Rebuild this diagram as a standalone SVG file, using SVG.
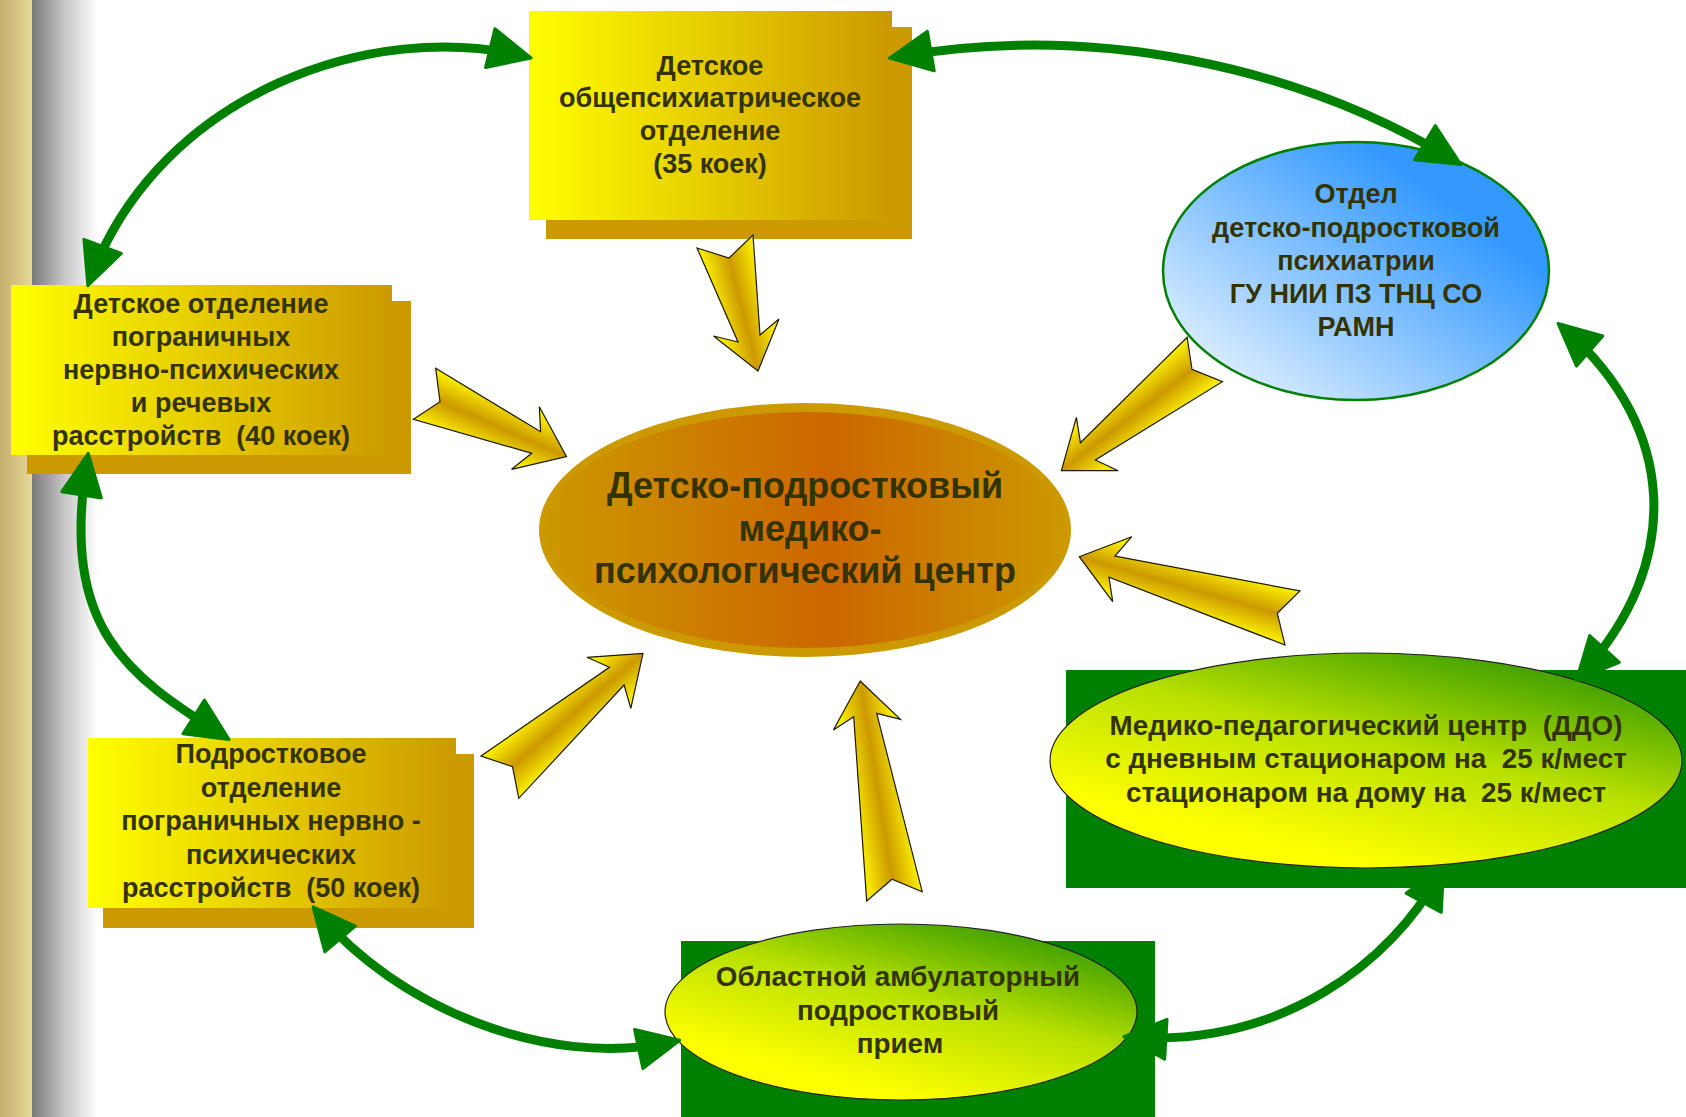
<svg xmlns="http://www.w3.org/2000/svg" width="1686" height="1117" viewBox="0 0 1686 1117">
<style>
.t{font-family:"Liberation Sans",Arial,sans-serif;font-weight:bold;fill:#333300;text-anchor:middle;white-space:pre}
.s27{font-size:27px}
.s28{font-size:27.8px}
.s36{font-size:36px}
.box{fill:url(#boxG)}
.shadow{fill:#cc9900}
.gold{stroke:#1a1a00;stroke-width:1.2;stroke-linejoin:miter}
.conn{fill:none;stroke:#008000;stroke-width:9;marker-start:url(#ah);marker-end:url(#ah)}
.grect{fill:#008000}
.gell{fill:url(#greenG);stroke:#222;stroke-width:1.2}
</style>
<defs>
<linearGradient id="tanG" x1="0" y1="0" x2="1" y2="0"><stop offset="0" stop-color="#c4ae6e"/><stop offset="1" stop-color="#e6d898"/></linearGradient>
<linearGradient id="grayG" x1="0" y1="0" x2="1" y2="0"><stop offset="0" stop-color="#7a7a7a"/><stop offset="0.5" stop-color="#c8c8c8"/><stop offset="1" stop-color="#ffffff"/></linearGradient>
<linearGradient id="boxG" x1="0" y1="0" x2="1" y2="0"><stop offset="0" stop-color="#ffff00"/><stop offset="1" stop-color="#cc9900"/></linearGradient>
<linearGradient id="blueG" x1="0.1" y1="0.95" x2="0.8" y2="0.3"><stop offset="0" stop-color="#e8f4ff"/><stop offset="1" stop-color="#3399ff"/></linearGradient>
<linearGradient id="centerG" x1="0" y1="0" x2="1" y2="0"><stop offset="0" stop-color="#cc9900"/><stop offset="0.55" stop-color="#cc6600"/><stop offset="1" stop-color="#cc9900"/></linearGradient>
<linearGradient id="greenG" x1="0.3" y1="0.85" x2="0.85" y2="0.05"><stop offset="0" stop-color="#ffff00"/><stop offset="0.5" stop-color="#b8e000"/><stop offset="1" stop-color="#339900"/></linearGradient>
<linearGradient id="goldStops"><stop offset="0" stop-color="#f8ea00"/><stop offset="0.5" stop-color="#cc9900"/><stop offset="1" stop-color="#f8ea00"/></linearGradient>
<linearGradient id="gA" href="#goldStops" gradientUnits="userSpaceOnUse" x1="733.8" y1="377.2" x2="782.2" y2="364.8"/>
<linearGradient id="gB" href="#goldStops" gradientUnits="userSpaceOnUse" x1="576.5" y1="433.8" x2="556.5" y2="479.6"/>
<linearGradient id="gC" href="#goldStops" gradientUnits="userSpaceOnUse" x1="626.6" y1="634.4" x2="659.4" y2="672.2"/>
<linearGradient id="gD" href="#goldStops" gradientUnits="userSpaceOnUse" x1="835.5" y1="685" x2="884.9" y2="677"/>
<linearGradient id="gE" href="#goldStops" gradientUnits="userSpaceOnUse" x1="1046.1" y1="451" x2="1076.7" y2="490.5"/>
<linearGradient id="gF" href="#goldStops" gradientUnits="userSpaceOnUse" x1="1086.2" y1="532.7" x2="1072.4" y2="580.8"/>
<marker id="ah" markerUnits="userSpaceOnUse" viewBox="0 0 46 44" markerWidth="46" markerHeight="44" refX="35" refY="22" orient="auto-start-reverse">
<path d="M2,2 L44,22 L2,42 z" fill="#008000" stroke="#008000" stroke-width="3" stroke-linejoin="round"/>
</marker>
</defs>

<rect width="1686" height="1117" fill="#ffffff"/>
<g id="stripe">
<rect x="0" y="0" width="32" height="1117" fill="url(#tanG)"/>
<rect x="32" y="0" width="66" height="1117" fill="url(#grayG)"/>
</g>

<g id="node-top">
<rect class="shadow" x="546" y="27" width="366" height="212"/>
<rect class="box" x="529" y="11" width="363" height="209"/>
<text class="t s27" x="710" y="75">Детское</text>
<text class="t s27" x="710" y="107">общепсихиатрическое</text>
<text class="t s27" x="710" y="140">отделение</text>
<text class="t s27" x="710" y="173">(35 коек)</text>
</g>

<g id="node-left1">
<rect class="shadow" x="27" y="301" width="384" height="173"/>
<rect class="box" x="11" y="285" width="381" height="170"/>
<text class="t s27" x="201" y="313">Детское отделение</text>
<text class="t s27" x="201" y="346">пограничных</text>
<text class="t s27" x="201" y="379">нервно-психических</text>
<text class="t s27" x="201" y="412">и речевых</text>
<text class="t s27" x="201" y="445">расстройств  (40 коек)</text>
</g>

<g id="node-left2">
<rect class="shadow" x="103" y="754" width="371" height="174"/>
<rect class="box" x="88" y="738" width="368" height="170"/>
<text class="t s27" x="271" y="763">Подростковое</text>
<text class="t s27" x="271" y="796.5">отделение</text>
<text class="t s27" x="271" y="830">пограничных нервно -</text>
<text class="t s27" x="271" y="863.5">психических</text>
<text class="t s27" x="271" y="897">расстройств  (50 коек)</text>
</g>

<g id="node-blue">
<ellipse cx="1356" cy="271" rx="193" ry="129" fill="url(#blueG)" stroke="#008000" stroke-width="2.5"/>
<text class="t s27" x="1356" y="203">Отдел</text>
<text class="t s27" x="1356" y="236.5">детско-подростковой</text>
<text class="t s27" x="1356" y="270">психиатрии</text>
<text class="t s27" x="1356" y="303">ГУ НИИ ПЗ ТНЦ СО</text>
<text class="t s27" x="1356" y="336">РАМН</text>
</g>

<g id="node-center">
<ellipse cx="805" cy="530" rx="266" ry="127" fill="#cc9900"/>
<ellipse cx="805" cy="530" rx="261" ry="118" fill="url(#centerG)"/>
<text class="t s36" x="805" y="498">Детско-подростковый</text>
<text class="t s36" x="810" y="540.5">медико-</text>
<text class="t s36" x="805" y="583">психологический центр</text>
</g>

<g id="node-mpc">
<rect class="grect" x="1066" y="670" width="620" height="218"/>
<ellipse class="gell" cx="1366" cy="760.5" rx="316" ry="107.5"/>
<text class="t s28" x="1366" y="735">Медико-педагогический центр  (ДДО)</text>
<text class="t s28" x="1366" y="768">с дневным стационаром на  25 к/мест</text>
<text class="t s28" x="1366" y="801.5">стационаром на дому на  25 к/мест</text>
</g>

<g id="node-amb">
<rect class="grect" x="681" y="941" width="474" height="176"/>
<ellipse class="gell" cx="901" cy="1012" rx="236" ry="88"/>
<text class="t s28" x="898" y="986">Областной амбулаторный</text>
<text class="t s28" x="898" y="1020">подростковый</text>
<text class="t s28" x="900" y="1053">прием</text>
</g>

<g id="flows">
<polygon class="gold" fill="url(#gA)" points="697,248 729,258 753,235 760,335 779,319 758,371 713.5,336 738,342"/>
<polygon class="gold" fill="url(#gB)" points="435.7,368.3 540.6,431.7 539.3,406.7 566.5,456.7 511.6,469.3 531.7,453.3 413.4,419.3 440,401.7"/>
<polygon class="gold" fill="url(#gC)" points="481,756 609.4,667.3 587,657.3 643,653.3 630.8,708.3 624.1,685 518.8,798.3 512.5,766.7"/>
<polygon class="gold" fill="url(#gD)" points="860.2,681 833.4,730 853.7,716.7 866.7,901 892,879.3 922.2,891.7 876.7,713.3 900.4,719.3"/>
<polygon class="gold" fill="url(#gE)" points="1187.1,337.3 1192,369.3 1222.4,381.7 1095.4,460 1118.2,470.7 1061.4,470.7 1076.4,417.3 1080.4,442.7"/>
<polygon class="gold" fill="url(#gF)" points="1079.3,556.7 1131.7,536.7 1115,556 1300,591 1277.3,613.3 1285,645 1109,577.3 1112.7,601.7"/>
</g>

<g id="connectors">
<path class="conn" d="M91,277.3 C161.8,89.8 376.5,20.4 522.3,55.9"/>
<path class="conn" d="M898.3,56.6 C1095.5,22.6 1299,66.7 1453.2,159.8"/>
<path class="conn" d="M1564.8,329.3 C1677.8,427.9 1682.9,562.4 1582.4,673.4"/>
<path class="conn" d="M1132.9,1037.3 C1282.6,1046.3 1391.7,961.8 1439.4,873.8"/>
<path class="conn" d="M318.9,913.7 C396,1005.6 543.9,1069.1 671,1042.1"/>
<path class="conn" d="M86.8,462.2 C60.1,630.2 128.8,675.5 221.5,734.6"/>
</g>
</svg>
